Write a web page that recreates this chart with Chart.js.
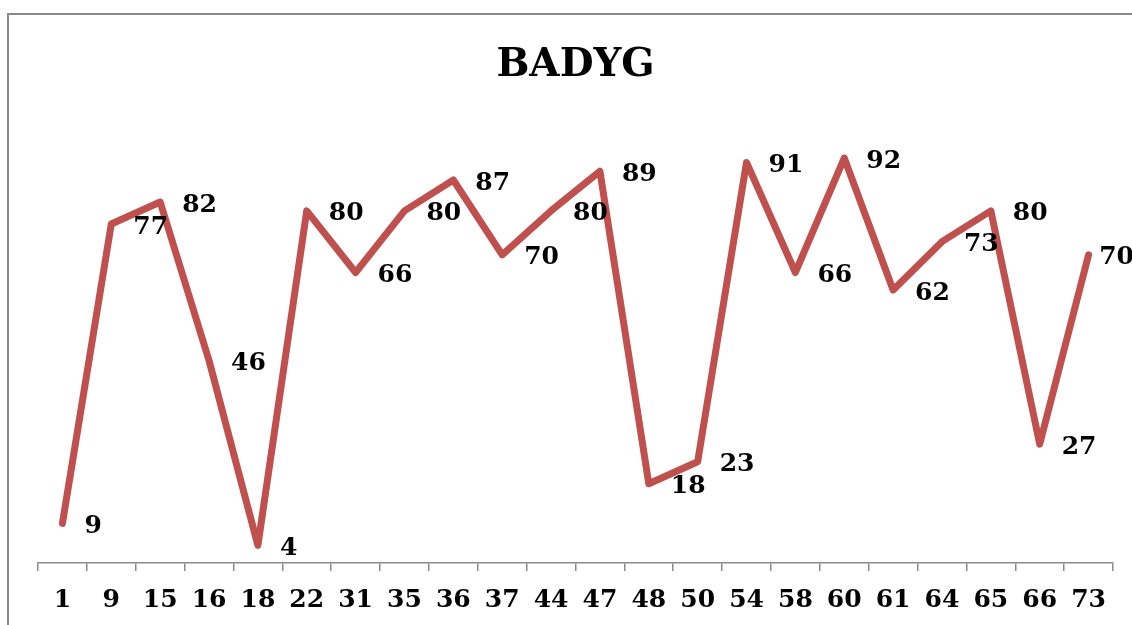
<!DOCTYPE html>
<html>
<head>
<meta charset="utf-8">
<script src="https://cdn.jsdelivr.net/npm/chart.js@4.4.1/dist/chart.umd.min.js"></script>
<style>
  html, body { margin: 0; padding: 0; background: #fff; overflow: hidden; }
  #frame {
    position: absolute; left: 7px; top: 13px; width: 1200px; height: 700px;
    border-left: 2px solid #8a8a8a; border-top: 2px solid #8a8a8a;
  }
  #chart { position: absolute; left: 0; top: 0; }
</style>
</head>
<body>
<div id="frame"></div>
<canvas id="chart" width="1132" height="625"></canvas>
<script>
const categories = ["1","9","15","16","18","22","31","35","36","37","44","47","48","50","54","58","60","61","64","65","66","73"];
const scores = [9, 77, 82, 46, 4, 80, 66, 80, 87, 70, 80, 89, 18, 23, 91, 66, 92, 62, 73, 80, 27, 70];

const serif = "'DejaVu Serif', 'Liberation Serif', serif";

// value labels to the right of each point, kept inside the canvas
const valueLabels = {
  id: 'valueLabels',
  afterDatasetsDraw(chart) {
    const ctx = chart.ctx;
    const meta = chart.getDatasetMeta(0);
    ctx.save();
    ctx.font = "bold 25px " + serif;
    ctx.fillStyle = "#000";
    ctx.textAlign = "left";
    ctx.textBaseline = "middle";
    meta.data.forEach((pt, i) => {
      const txt = String(scores[i]);
      const w = ctx.measureText(txt).width;
      const x = Math.min(pt.x + 22, chart.width - w + 2);
      ctx.fillText(txt, x, pt.y + 3);
    });
    ctx.restore();
  }
};

new Chart(document.getElementById("chart").getContext("2d"), {
  type: 'line',
  data: {
    labels: categories,
    datasets: [{
      data: scores,
      borderColor: '#C0504D',
      borderWidth: 7,
      borderCapStyle: 'round',
      borderJoinStyle: 'round',
      pointRadius: 0,
      tension: 0,
      clip: false
    }]
  },
  options: {
    responsive: false,
    animation: false,
    devicePixelRatio: 1,
    layout: { padding: { left: 38, right: 19, top: 0, bottom: 0 } },
    plugins: {
      legend: { display: false },
      tooltip: { enabled: false },
      title: {
        display: true,
        text: 'BADYG',
        color: '#000',
        font: { family: serif, size: 39, weight: 'bold', lineHeight: 1.2 },
        padding: { top: 42, bottom: 34 }
      }
    },
    scales: {
      x: {
        offset: true,
        grid: {
          offset: true,
          drawOnChartArea: false,
          drawTicks: true,
          tickLength: 8,
          color: '#8a8a8a',
          lineWidth: 1.5
        },
        border: { display: true, color: '#8a8a8a', width: 1.5 },
        ticks: {
          color: '#000',
          font: { family: serif, size: 25, weight: 'bold' },
          padding: 14,
          maxRotation: 0,
          autoSkip: false
        },
        afterFit(scale) { scale.height = 62; }
      },
      y: {
        display: false,
        min: 0,
        max: 100
      }
    }
  },
  plugins: [valueLabels]
});
</script>
</body>
</html>
